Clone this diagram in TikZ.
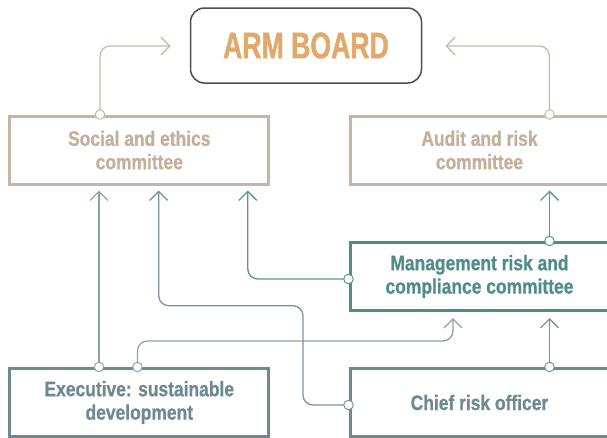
\documentclass[tikz,border=0pt]{standalone}
\usepackage{fontspec}
\usetikzlibrary{arrows.meta,calc}
\newfontfamily\cf[FakeStretch=0.83,FakeBold=0.8]{Liberation Sans}
\newfontfamily\af[FakeStretch=0.72,FakeBold=1.2]{Liberation Sans}
\definecolor{tanbox}{HTML}{C6B5A3}
\definecolor{tantext}{HTML}{C2B09C}
\definecolor{tanline}{HTML}{C9BAAA}
\definecolor{tealc}{HTML}{4E8D88}
\definecolor{teall}{HTML}{5B9691}
\definecolor{slatec}{HTML}{6E8992}
\definecolor{slatel}{HTML}{8CA3AB}
\definecolor{slatem}{HTML}{7A939C}
\definecolor{armc}{HTML}{E2A96B}
\definecolor{armb}{HTML}{4D4D4D}
\tikzset{
  cbox/.style={draw=#1, line width=3pt, minimum width=259pt, minimum height=68pt,
    inner sep=0pt, align=center, font=\cf\bfseries\fontsize{21}{23.4}\selectfont},
  conn/.style={draw=#1, line width=1.3pt, rounded corners=10pt,
    -{Straight Barb[length=9pt,width=18pt,line width=1.3pt]}},
  port/.style={circle, draw=#1, fill=white, line width=1pt, minimum size=9.5pt, inner sep=0pt}
}
\begin{document}
\begin{tikzpicture}[x=1pt,y=-1pt]
\useasboundingbox (0,0) rectangle (607,437);
% boxes
\node[draw=armb, line width=1.5pt, rounded corners=14pt, minimum width=231pt, minimum height=75pt,
  inner sep=0pt, text=armc, font=\af\bfseries\fontsize{37}{40}\selectfont] (arm) at (306,45.5) {ARM BOARD};
\node[cbox=tanbox, text=tantext] (soc) at (139.3,150) {Social and ethics\\committee};
\node[cbox=tanbox, text=tantext] (aud) at (479.5,150) {Audit and risk\\committee};
\node[cbox=tealc, text=tealc] (mgmt) at (479.5,276.5) {Management risk and\\compliance committee};
\node[cbox=slatec, text=slatec] (exe) at (139.3,402.5) {Executive: sustainable\\development};
\node[cbox=slatec, text=slatec] (cro) at (479.5,402.5) {Chief risk officer};
% port coordinates
\coordinate (s1) at (soc.north -| 100,0);
\coordinate (a1) at (aud.north -| 549.5,0);
\coordinate (m1) at (mgmt.west |- 0,279);
\coordinate (m2) at (mgmt.north -| 549.5,0);
\coordinate (e1) at (exe.north -| 99,0);
\coordinate (e2) at (exe.north -| 137.4,0);
\coordinate (c1) at (cro.west |- 0,405);
\coordinate (c2) at (cro.north -| 549.5,0);
% connectors
\draw[conn=tanline] (s1) |- ($(arm.west)+(-19,0.5)$);
\draw[conn=tanline] (a1) |- ($(arm.east)+(23,0.5)$);
\draw[conn=teall] (m1) -| ($(soc.south -| 247.8,0)+(0,5)$);
\draw[conn=teall] (m2) -- ($(aud.south -| 549.5,0)+(0,5)$);
\draw[conn=slatel] (e1) -- ($(soc.south -| 99,0)+(0,5)$);
\draw[conn=slatel] (e2) |- (453,341) -- ($(mgmt.south -| 453,0)+(0,6)$);
\draw[conn=slatem] (c1) -| (303,305.7) -| ($(soc.south -| 158.7,0)+(0,5)$);
\draw[conn=slatem] (c2) -- ($(mgmt.south -| 549.5,0)+(0,6)$);
% ports
\node[port=tanline] at (s1) {};
\node[port=tanline] at (a1) {};
\node[port=teall] at (m1) {};
\node[port=teall] at (m2) {};
\node[port=slatel] at (e1) {};
\node[port=slatel] at (e2) {};
\node[port=slatem] at (c1) {};
\node[port=slatem] at (c2) {};
\end{tikzpicture}
\end{document}
